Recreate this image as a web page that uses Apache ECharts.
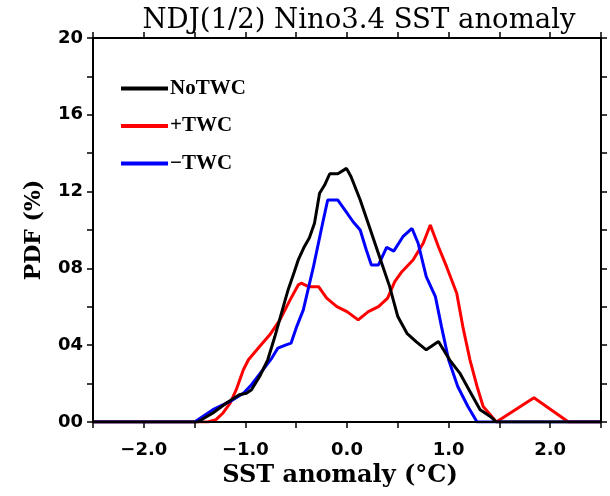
<!DOCTYPE html>
<html>
<head>
<meta charset="utf-8">
<script src="https://cdn.jsdelivr.net/npm/echarts@6/dist/echarts.min.js"></script>
<style>html,body{margin:0;padding:0;background:#fff;}#chart{width:610px;height:496px;}</style>
</head>
<body>
<div id="chart"></div>
<script>
// ---- data ----
var titleText = 'NDJ(1/2) Nino3.4 SST anomaly';
var xAxisName = 'SST anomaly (\u00B0C)';
var yAxisName = 'PDF (%)';
var seriesNames = ['NoTWC', '+TWC', '\u2212TWC'];
var seriesColors = ['#000000', '#ff0000', '#0000ff'];

var noTwcX = [-2.5, -1.47, -1.32, -1.19, -1.06, -0.99, -0.94, -0.86, -0.78, -0.71, -0.645, -0.58, -0.52, -0.48, -0.42, -0.37, -0.32, -0.27, -0.22, -0.17, -0.09, -0.005, 0.04, 0.13, 0.22, 0.32, 0.42, 0.50, 0.59, 0.68, 0.78, 0.90, 1.01, 1.11, 1.21, 1.31, 1.41, 1.47, 2.5];
var noTwcY = [0, 0, 0.47, 0.98, 1.42, 1.5, 1.68, 2.37, 3.24, 4.45, 5.67, 6.88, 7.8, 8.44, 9.13, 9.6, 10.35, 11.91, 12.34, 12.93, 12.93, 13.21, 12.77, 11.56, 10.17, 8.61, 7.05, 5.49, 4.62, 4.19, 3.76, 4.19, 3.24, 2.55, 1.59, 0.64, 0.29, 0, 0];

var plusTwcX = [-2.5, -1.37, -1.29, -1.22, -1.15, -1.09, -1.02, -0.97, -0.86, -0.76, -0.66, -0.56, -0.48, -0.45, -0.38, -0.28, -0.20, -0.10, 0.0, 0.11, 0.21, 0.31, 0.40, 0.47, 0.54, 0.65, 0.75, 0.82, 0.90, 0.98, 1.08, 1.14, 1.21, 1.28, 1.34, 1.41, 1.47, 1.84, 2.18, 2.5];
var plusTwcY = [0, 0, 0.12, 0.47, 0.98, 1.68, 2.72, 3.24, 3.93, 4.54, 5.32, 6.36, 7.14, 7.23, 7.05, 7.05, 6.45, 6.01, 5.75, 5.32, 5.75, 6.01, 6.45, 7.31, 7.83, 8.44, 9.31, 10.26, 9.13, 8.09, 6.71, 4.97, 3.24, 1.85, 0.81, 0.38, 0, 1.26, 0, 0];

var minusTwcX = [-2.5, -1.5, -1.32, -1.15, -1.02, -0.94, -0.84, -0.74, -0.68, -0.60, -0.55, -0.50, -0.43, -0.33, -0.24, -0.19, -0.09, -0.02, 0.06, 0.13, 0.19, 0.24, 0.31, 0.39, 0.46, 0.55, 0.64, 0.70, 0.78, 0.87, 0.93, 1.0, 1.09, 1.19, 1.28, 2.5];
var minusTwcY = [0, 0, 0.64, 1.07, 1.5, 1.94, 2.63, 3.33, 3.85, 4.02, 4.11, 4.9, 5.84, 8.09, 10.35, 11.56, 11.56, 11.04, 10.43, 10.0, 8.96, 8.18, 8.18, 9.1, 8.9, 9.65, 10.08, 9.31, 7.57, 6.53, 4.97, 3.24, 1.85, 0.81, 0, 0];

var xMin = -2.5, xMax = 2.5, xStep = 0.5;
var yMin = 0, yMax = 20, yStep = 2;

// ---- build chart ----
function pairs(xs, ys) { return xs.map(function (x, i) { return [x, ys[i]]; }); }
var allX = [noTwcX, plusTwcX, minusTwcX];
var allY = [noTwcY, plusTwcY, minusTwcY];

var tickFont = { fontFamily: 'DejaVu Sans', fontWeight: 'bold', fontSize: 18, color: '#000' };
var axisLine = { show: true, onZero: false, lineStyle: { color: '#000', width: 2 } };
var axisTick = { show: true, inside: false, length: 6, lineStyle: { color: '#000', width: 1.5 } };

var chart = echarts.init(document.getElementById('chart'));
chart.setOption({
  animation: false,
  backgroundColor: '#fff',
  title: {
    text: titleText, left: 354, top: 2, textAlign: 'center',
    textStyle: { fontFamily: 'DejaVu Serif', fontWeight: 'normal', fontSize: 27.5, color: '#000' }
  },
  legend: {
    orient: 'vertical', left: 116, top: 73,
    itemWidth: 47, itemHeight: 4, itemGap: 16.5, icon: 'rect',
    data: seriesNames,
    textStyle: { fontFamily: 'Liberation Serif', fontWeight: 'bold', fontSize: 21, color: '#000', padding: [0, 0, 0, -3] }
  },
  grid: { left: 93, right: 9, top: 38, bottom: 74, containLabel: false },
  xAxis: [{
    type: 'value', min: xMin, max: xMax, interval: xStep, position: 'bottom', z: 5,
    name: xAxisName, nameLocation: 'middle', nameGap: 41,
    nameTextStyle: { fontFamily: 'DejaVu Serif', fontWeight: 'bold', fontSize: 24, color: '#000', padding: [0, 14, 0, 0] },
    axisLine: axisLine, axisTick: axisTick, splitLine: { show: false },
    axisLabel: Object.assign({ margin: 19, showMinLabel: true, showMaxLabel: true,
      formatter: function (v) {
        if (Math.abs(v - Math.round(v)) > 1e-6) return '';
        var s = Math.abs(v).toFixed(1);
        return (v < 0 ? '\u2212' : '') + s;
      } }, tickFont)
  }, {
    type: 'value', min: xMin, max: xMax, interval: xStep, position: 'top', z: 5,
    axisLine: axisLine, axisTick: axisTick, splitLine: { show: false }, axisLabel: { show: false }
  }],
  yAxis: [{
    type: 'value', min: yMin, max: yMax, interval: yStep, position: 'left', z: 5,
    name: yAxisName, nameLocation: 'middle', nameGap: 48, nameRotate: 90,
    nameTextStyle: { fontFamily: 'DejaVu Serif', fontWeight: 'bold', fontSize: 22, color: '#000' },
    axisLine: axisLine, axisTick: axisTick, splitLine: { show: false },
    axisLabel: Object.assign({ margin: 10,
      formatter: function (v) {
        if (v % 4 !== 0) return '';
        return (v < 10 ? '0' : '') + v;
      } }, tickFont)
  }, {
    type: 'value', min: yMin, max: yMax, interval: yStep, position: 'right', z: 5,
    axisLine: axisLine, axisTick: axisTick, splitLine: { show: false }, axisLabel: { show: false }
  }],
  series: seriesNames.map(function (n, i) {
    return {
      name: n, type: 'line', xAxisIndex: 0, yAxisIndex: 0,
      data: pairs(allX[i], allY[i]), symbol: 'none', smooth: false,
      lineStyle: { color: seriesColors[i], width: 3 },
      itemStyle: { color: seriesColors[i] },
      z: i === 0 ? 4 : 3
    };
  })
});
</script>
</body>
</html>
